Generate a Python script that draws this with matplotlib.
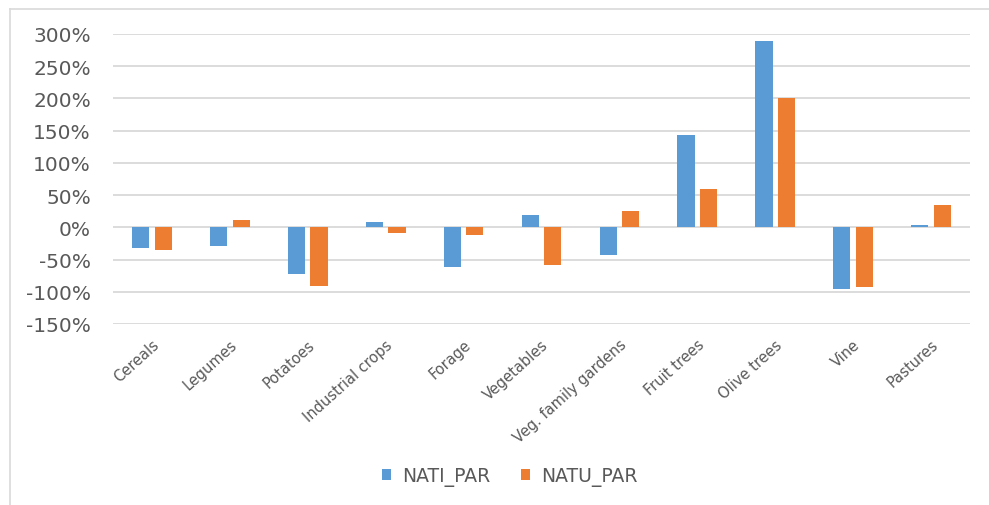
import numpy as np
import matplotlib
matplotlib.use("Agg")
import matplotlib.pyplot as plt
from matplotlib.lines import Line2D
from matplotlib.ticker import FuncFormatter

# Data (percent change)
categories = ["Cereals", "Legumes", "Potatoes", "Industrial crops", "Forage",
              "Vegetables", "Veg. family gardens", "Fruit trees", "Olive trees",
              "Vine", "Pastures"]
nati_par = [-32, -29, -72, 9, -61, 19, -43, 144, 289, -96, 4]
natu_par = [-35, 11, -91, -9, -12, -59, 26, 60, 200, -93, 34]

blue = '#5B9BD5'
orange = '#ED7D31'
grey_text = '#595959'
grid_col = '#D9D9D9'

plt.rcParams['font.family'] = ['DejaVu Sans']

fig = plt.figure(figsize=(9.89, 5.06), dpi=100)
ax = fig.add_axes([113 / 989, 1 - 325 / 506, (970 - 113) / 989, (325 - 35) / 506])

x = np.arange(len(categories))
w = 0.22
off = 0.145
ax.bar(x - off, nati_par, width=w, color=blue, label='NATI_PAR', zorder=3)
ax.bar(x + off, natu_par, width=w, color=orange, label='NATU_PAR', zorder=3)

ax.set_xlim(-0.5, len(categories) - 0.5)
ax.set_ylim(-150, 300)
ax.set_yticks(np.arange(-150, 301, 50))
ax.yaxis.set_major_formatter(FuncFormatter(lambda v, p: f'{int(v)}%'))
ax.grid(axis='y', color=grid_col, linewidth=1.3, zorder=0)
ax.set_axisbelow(True)

for s in ax.spines.values():
    s.set_visible(False)

ax.tick_params(axis='y', length=0, pad=16, labelsize=14.5, labelcolor=grey_text)
ax.tick_params(axis='x', length=0, pad=9, labelsize=10.5, labelcolor=grey_text)
ax.set_xticks(x)
ax.set_xticklabels(categories, rotation=42, ha='right', rotation_mode='anchor')

leg = fig.legend(loc='center', bbox_to_anchor=(510 / 989, 1 - 477 / 506), ncol=2,
                 frameon=False, fontsize=13.5, handlelength=0.5, handleheight=0.5,
                 handletextpad=0.6, columnspacing=1.6)
for t in leg.get_texts():
    t.set_color(grey_text)

# chart area border (top and left edges visible)
fig.add_artist(Line2D([10 / 989, 1], [1 - 10 / 506, 1 - 10 / 506], color=grid_col, linewidth=1.2))
fig.add_artist(Line2D([10 / 989, 10 / 989], [0, 1 - 10 / 506], color=grid_col, linewidth=1.2))

fig.savefig('out.png', dpi=100)
